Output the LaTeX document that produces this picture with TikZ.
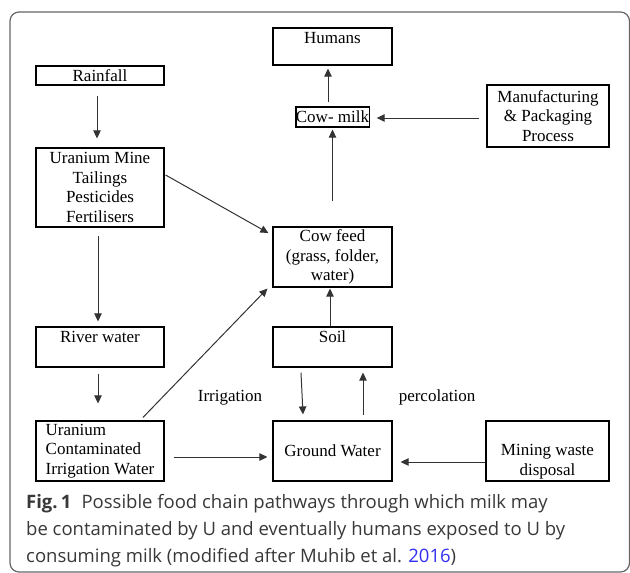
\documentclass[tikz,border=0pt]{standalone}
\usepackage{fontspec}
\setmainfont{Liberation Serif}
\newfontfamily\capfont{Open Sans}
\usepackage{xcolor}
\usetikzlibrary{arrows.meta}
\definecolor{capgray}{HTML}{383838}
\definecolor{refblue}{HTML}{3030F0}

\begin{document}
\begin{tikzpicture}[x=1pt, y=-1pt,
  every node/.style={font=\fontsize{17}{19.7}\selectfont, align=center, inner sep=0pt},
  box/.style={draw, line width=1.2pt},
  flow/.style={line width=1pt, black!80, -{Triangle[length=8pt,width=7.5pt]}}]
  % Frame
  \useasboundingbox (0,0) rectangle (630,573);
  \draw[black!60, line width=1.2pt, rounded corners=9pt] (10,12) rectangle (629.5,572);

  % Left column
  \node[box, minimum width=128pt, minimum height=19pt] (rain) at (100,75.5) {Rainfall};
  \node[box, minimum width=128pt, minimum height=79pt] (mine) at (100,187.5) {Uranium Mine\\Tailings\\Pesticides\\Fertilisers};
  \node[box, minimum width=128pt, minimum height=40pt] (river) at (100,347) {};
  \node (rivertxt) at ([yshift=10pt]river.center) {River water};
  \node[box, minimum width=128pt, minimum height=60pt, align=left] (ucw) at (100,451) {Uranium\\Contaminated\\Irrigation Water};

  % Middle column
  \node[box, minimum width=119pt, minimum height=37pt] (humans) at (332.5,46.5) {};
  \node (humanstxt) at ([yshift=8.3pt]humans.center) {Humans};
  \node[box, minimum width=73pt, minimum height=20pt] (milk) at (332.5,117) {Cow- milk};
  \node[box, minimum width=119pt, minimum height=60pt] (feed) at (332.5,257) {Cow feed\\(grass, folder,\\water)};
  \node[box, minimum width=119pt, minimum height=40pt] (soil) at (332.5,347) {};
  \node (soiltxt) at ([yshift=10pt]soil.center) {Soil};
  \node[box, minimum width=119pt, minimum height=60pt] (ground) at (332.5,451) {Ground Water};

  % Right column
  \node[box, minimum width=122pt, minimum height=62pt] (manuf) at (548,116) {Manufacturing\\\& Packaging\\Process};
  \node[box, minimum width=123pt, minimum height=60pt] (waste) at (547.5,451) {};
  \node (wastetxt) at ([yshift=-11pt]waste.center) {Mining waste\\disposal};

  % Pathways
  \draw[flow] ([xshift=-3pt, yshift=-10pt]rain.south) -- ([xshift=-3pt, yshift=9pt]mine.north);
  \draw[flow] ([xshift=1pt, yshift=12.5pt]mine.east) -- ([xshift=-4pt, yshift=24pt]feed.west);
  \draw[flow] ([xshift=-2pt, yshift=-8pt]mine.south) -- ([xshift=-2pt, yshift=5pt]river.north);
  \draw[flow] ([xshift=-2pt, yshift=-6pt]river.south) -- ([xshift=-2pt, yshift=17pt]ucw.north);
  \draw[flow] ([xshift=43pt, yshift=3pt]ucw.north) -- ([xshift=-5pt, yshift=-1pt]feed.south west);
  \draw[flow] ([xshift=9pt, yshift=-6pt]ucw.east) -- ([xshift=-5pt, yshift=-6pt]ground.west);
  \draw[flow] ([xshift=-4.5pt, yshift=4pt]milk.north) -- ([xshift=-4.5pt, yshift=-3pt]humans.south);
  \draw[flow] ([xshift=-7pt, yshift=-2pt]manuf.west) -- ([xshift=7pt, yshift=-1pt]milk.east);
  \draw[flow] ([yshift=25pt]feed.north) -- ([yshift=-2pt]milk.south);
  \draw[flow] ([xshift=-2.5pt]soil.north) -- ([xshift=-2.5pt, yshift=-1pt]feed.south);
  \draw[flow] ([xshift=-31.5pt, yshift=-5pt]soil.south) -- ([xshift=-29.5pt, yshift=6pt]ground.north);
  \draw[flow] ([xshift=30.5pt, yshift=5pt]ground.north) -- ([xshift=30.5pt, yshift=-5pt]soil.south);
  \draw[flow] ([yshift=-11pt]waste.west) -- ([xshift=8pt, yshift=-11pt]ground.east);

  % Labels
  \node[anchor=base] (irrig) at (230,401) {Irrigation};
  \node[anchor=base] (perc) at (437,401) {percolation};

  % Caption
  \node[anchor=north west, align=left, text=capgray,
        font=\capfont\fontsize{18.5}{26.7}\selectfont] (cap) at (26,494.3)
    {\textbf{Fig.\,1}\hspace{0.55em}Possible food chain pathways through which milk may\\
     be contaminated by U and eventually humans exposed to U by\\
     consuming milk (modified after Muhib et al. \textcolor{refblue}{2016})};
\end{tikzpicture}
\end{document}
